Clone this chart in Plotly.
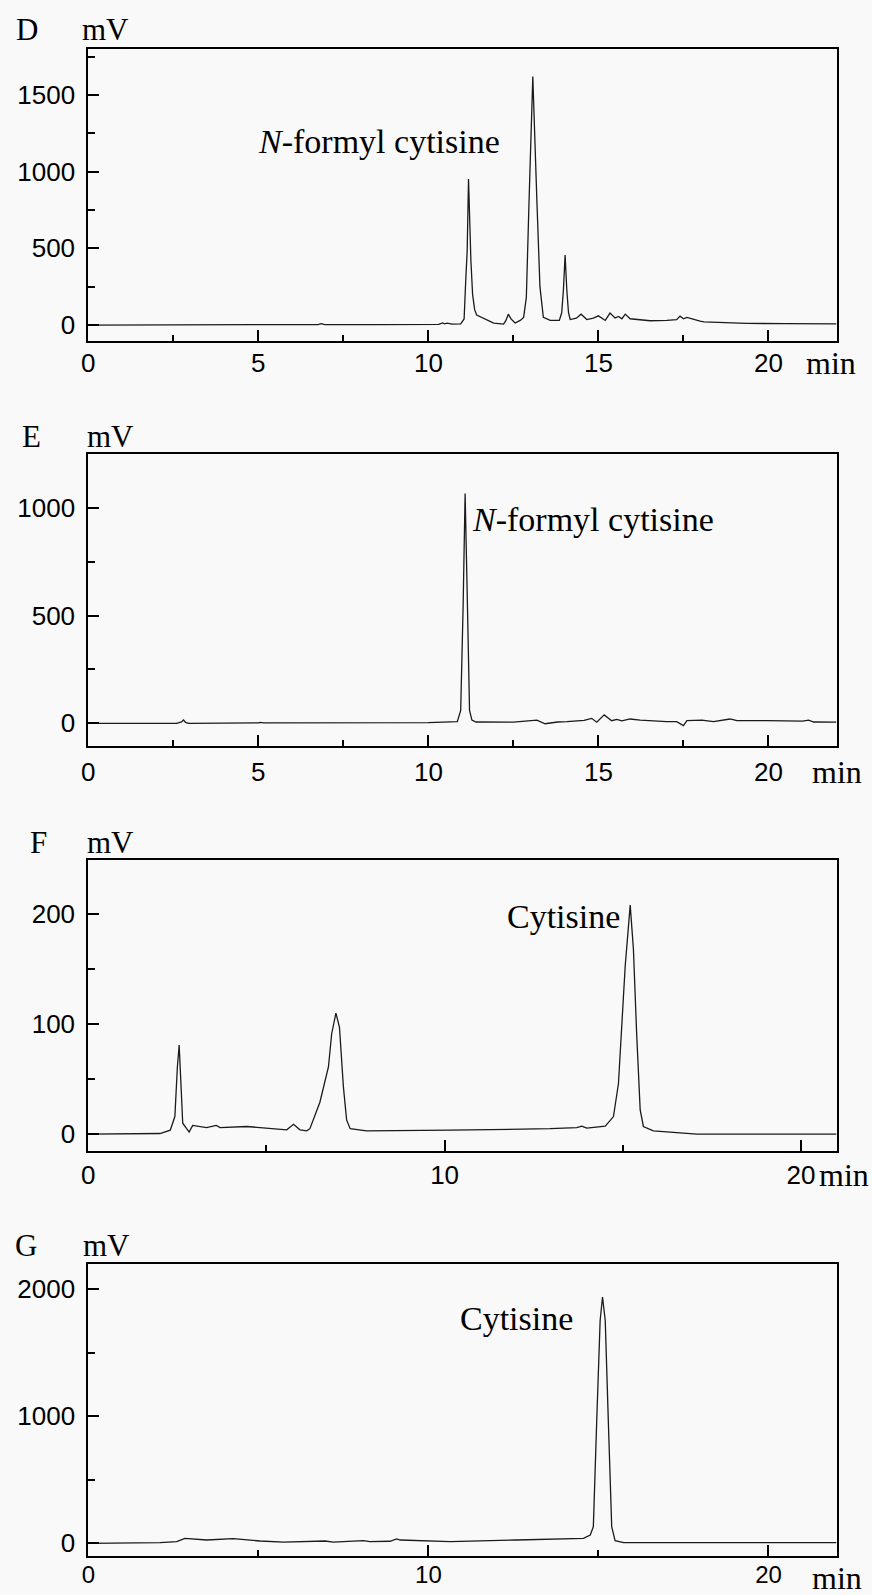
import plotly.graph_objects as go

W, H = 872, 1595

# ---------------- data (min, mV) ----------------
d_time = [0, 3, 6, 6.75, 6.85, 6.95, 8.5, 9.0, 9.1, 9.2, 10.3, 10.42, 10.48, 10.55, 10.62, 10.7,
          10.95, 11.05, 11.1, 11.14, 11.18, 11.22, 11.25, 11.3, 11.36, 11.42, 11.62, 11.92, 12.21,
          12.28, 12.35, 12.43, 12.55, 12.7, 12.8, 12.88, 12.96, 13.07, 13.19, 13.28, 13.38, 13.58,
          13.85, 13.92, 13.97, 14.02, 14.07, 14.12, 14.17, 14.35, 14.49, 14.66, 14.85, 15.0, 15.2,
          15.34, 15.49, 15.59, 15.69, 15.79, 15.93, 16.23, 16.52, 17.01, 17.3, 17.4, 17.5, 17.6,
          17.79, 17.99, 18.1, 19.36, 20.5, 22.0]
d_mv = [0, 0, 2, 3, 9, 3, 3, 3, 6, 3, 4, 14, 8, 12, 9, 6,
        8, 40, 300, 480, 952, 600, 420, 200, 100, 65, 45, 13, 6,
        30, 71, 40, 13, 30, 50, 180, 810, 1619, 810, 250, 50, 30,
        30, 80, 228, 456, 228, 80, 36, 45, 71, 36, 45, 60, 30,
        78, 46, 56, 41, 71, 41, 36, 28, 30, 35, 58, 41, 50,
        36, 26, 21, 11, 9, 7]

e_time = [0, 2.6, 2.74, 2.8, 2.86, 2.95, 5.0, 5.05, 5.15, 6.7, 10.0, 10.85, 10.95, 11.02, 11.08,
          11.15, 11.21, 11.28, 11.4, 12.5, 12.95, 13.19, 13.43, 13.8, 14.07, 14.58, 14.8, 14.95,
          15.17, 15.39, 15.54, 15.69, 15.93, 16.23, 17.01, 17.3, 17.5, 17.6, 18.04, 18.38, 18.87,
          19.07, 19.95, 21.0, 21.18, 21.33, 22.0]
e_mv = [0, 0, 6, 15, 4, 0, 2, 4, 2, 3, 3, 8, 60, 534, 1067,
        534, 60, 15, 6, 5, 10, 15, -2, 6, 8, 14, 23, 5,
        39, 12, 18, 11, 20, 15, 8, 8, -11, 12, 15, 8, 20,
        12, 12, 10, 15, 6, 5]

f_time = [0, 2.01, 2.3, 2.43, 2.5, 2.55, 2.6, 2.65, 2.76, 2.83, 2.93, 3.32, 3.59, 3.7, 4.45,
          5.57, 5.76, 5.94, 6.13, 6.22, 6.5, 6.74, 6.83, 6.95, 7.05, 7.16, 7.25, 7.35, 7.81,
          8.74, 10.15, 12.96, 13.71, 13.85, 13.99, 14.51, 14.74, 14.88, 14.97, 15.07, 15.21,
          15.3, 15.39, 15.49, 15.58, 15.86, 17.08, 21.0]
f_mv = [0, 0.6, 3.6, 16, 61, 81, 46, 10, 5, 2, 8, 6, 8, 6, 7,
        4, 9, 4, 3, 5, 29, 61, 91, 110, 97, 43, 13, 5, 3,
        3, 3.6, 5, 6, 7.3, 5.5, 7.3, 16, 46, 92, 153, 208,
        168, 92, 22, 7, 3, 0, 0]

g_time = [0, 2.11, 2.6, 2.84, 3.48, 4.26, 5.05, 5.74, 6.96, 7.2, 8.09, 8.28, 8.87, 9.07, 9.17,
          10.64, 12.6, 14.56, 14.76, 14.85, 14.95, 15.05, 15.12, 15.2, 15.29, 15.39, 15.49,
          15.74, 22.0]
g_mv = [0, 5, 13, 39, 26, 37, 18, 10, 18, 10, 21, 13, 16, 34, 26,
        13, 26, 39, 65, 131, 970, 1755, 1940, 1755, 970, 131, 21,
        5, 5]

panel_letters = ["D", "E", "F", "G"]
x_ranges = [[0, 22], [0, 22], [0, 21], [0, 22]]
y_ranges = [[-102, 1797], [-104, 1250], [-15, 249], [-100, 2200]]
x_major = [5, 5, 10, 10]
x_minor = [2.5, 2.5, 5, 5]
y_major = [500, 500, 100, 1000]
y_minor = [250, 250, 50, 500]
peak_labels = ["<i>N</i>-formyl cytisine", "<i>N</i>-formyl cytisine", "Cytisine", "Cytisine"]

# ---------------- layout geometry (pixels) ----------------
x_left, x_right = 88.3, 836.5
boxes = [(49.3, 340.7), (454, 745.7), (860, 1150.7), (1264, 1556)]
letter_pos = [(27, 30), (31, 437), (38, 842), (26, 1245)]
mv_pos = [(105, 30), (111, 437), (110, 842), (106, 1245)]
min_pos = [(831, 363), (837, 772), (844, 1175), (837, 1578)]
label_pos = [(256, 142), (470, 520), (505, 917), (458, 1318)]
x_label_standoff = [-2, 2, 0, -4]
x_label_size = [26, 26, 26, 24]

def fx(p):
    return p / W

def fy(p):
    return 1 - p / H

series = [(d_time, d_mv), (e_time, e_mv), (f_time, f_mv), (g_time, g_mv)]

fig = go.Figure()
serif = "Liberation Serif, Times New Roman, serif"
sans = "Liberation Sans, Arial, sans-serif"

for i, (t, v) in enumerate(series):
    n = "" if i == 0 else str(i + 1)
    fig.add_trace(go.Scatter(x=t, y=v, mode="lines", xaxis="x" + n, yaxis="y" + n,
                             line=dict(color="#1a1a1a", width=1.3), showlegend=False,
                             hoverinfo="skip"))
    top, bot = boxes[i]
    common = dict(showline=True, linewidth=2, linecolor="black", mirror=True,
                  showgrid=False, zeroline=False, ticks="inside", tickwidth=2,
                  tickcolor="black", ticklen=11, automargin=False)
    fig.layout["xaxis" + n] = dict(
        domain=[fx(x_left), fx(x_right)], anchor="y" + n, range=x_ranges[i],
        tick0=0, dtick=x_major[i], ticklabelstandoff=x_label_standoff[i],
        tickfont=dict(family=sans, size=x_label_size[i], color="black"),
        minor=dict(ticks="inside", dtick=x_minor[i], tick0=0, ticklen=6, tickwidth=2,
                   tickcolor="black"),
        **common)
    fig.layout["yaxis" + n] = dict(
        domain=[fy(bot), fy(top)], anchor="x" + n, range=y_ranges[i],
        tick0=0, dtick=y_major[i], ticklabelstandoff=6,
        tickfont=dict(family=sans, size=26, color="black"),
        minor=dict(ticks="inside", dtick=y_minor[i], tick0=0, ticklen=7, tickwidth=2,
                   tickcolor="black"),
        **common)

    fig.add_annotation(text=panel_letters[i], x=fx(letter_pos[i][0]), y=fy(letter_pos[i][1]),
                       xref="paper", yref="paper", showarrow=False, xanchor="center",
                       yanchor="middle", font=dict(family=serif, size=31, color="black"))
    fig.add_annotation(text="mV", x=fx(mv_pos[i][0]), y=fy(mv_pos[i][1]),
                       xref="paper", yref="paper", showarrow=False, xanchor="center",
                       yanchor="middle", font=dict(family=serif, size=31, color="black"))
    fig.add_annotation(text="min", x=fx(min_pos[i][0]), y=fy(min_pos[i][1]),
                       xref="paper", yref="paper", showarrow=False, xanchor="center",
                       yanchor="middle", font=dict(family=serif, size=32, color="black"))
    fig.add_annotation(text=peak_labels[i], x=fx(label_pos[i][0]), y=fy(label_pos[i][1]),
                       xref="paper", yref="paper", showarrow=False, xanchor="left",
                       yanchor="middle", font=dict(family=serif, size=34, color="black"))

fig.update_layout(width=W, height=H, margin=dict(l=0, r=0, t=0, b=0),
                  paper_bgcolor="#f9f9f9", plot_bgcolor="#f9f9f9")

fig.write_html("out.html", config={"displayModeBar": False},
               post_script="document.body.style.margin='0';")
